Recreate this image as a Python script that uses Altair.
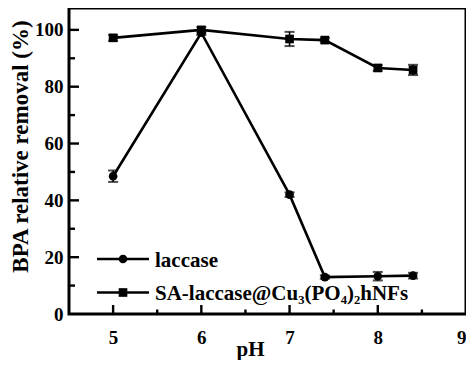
import altair as alt
import pandas as pd

ph = [5, 6, 7, 7.4, 8, 8.4]
laccase = [48.5, 99.0, 42.0, 13.0, 13.3, 13.5]
laccase_err = [2.0, 0.8, 0.8, 0.6, 1.5, 1.0]
sa = [97.2, 100.0, 96.8, 96.4, 86.6, 85.9]
sa_err = [1.0, 1.0, 2.5, 0.8, 1.0, 1.8]

series_names = ["laccase", "SA-laccase@Cu\u2083(PO\u2084)\u2082hNFs"]
x_ticks = [5, 6, 7, 8, 9]
x_minor = [5.5, 6.5, 7.5, 8.5]
y_ticks = [0, 20, 40, 60, 80, 100]
y_major_in = [20, 40, 60, 80, 100]
y_minor = [10, 30, 50, 70, 90]

rows = []
for name, vals, errs in [(series_names[0], laccase, laccase_err),
                         (series_names[1], sa, sa_err)]:
    for p, v, e in zip(ph, vals, errs):
        rows.append({"series": name, "pH": p, "value": v, "lo": v - e, "hi": v + e})
df = pd.DataFrame(rows)

W, H = 397, 306
FONT = "Liberation Serif"
xs = alt.Scale(domain=[4.5, 9.0], nice=False, zero=False)
ys = alt.Scale(domain=[0, 107.7], nice=False)
shape_scale = alt.Scale(domain=series_names, range=["circle", "square"])

x_axis = alt.Axis(values=x_ticks, title="pH", ticks=False, domain=False, grid=False,
                  labelPadding=14, format="d", titleX=181, titleY=41,
                  titleAlign="center", titleBaseline="alphabetic")
y_axis = alt.Axis(values=y_ticks, title="BPA relative removal (%)", ticks=False,
                  domain=False, grid=False, labelPadding=6,
                  titleX=-49, titleY=138, titleAlign="center", titleBaseline="middle")


def X(f):
    return alt.X(f, scale=xs, axis=x_axis)


def Y(f):
    return alt.Y(f, scale=ys, axis=y_axis)


base = alt.Chart(df)
lines = base.mark_line(color="black", strokeWidth=2.6).encode(
    x=X("pH:Q"), y=Y("value:Q"), detail="series:N")
err = base.mark_rule(color="black", strokeWidth=1.6).encode(
    x=X("pH:Q"), y=Y("lo:Q"), y2="hi:Q")
cap_lo = base.mark_tick(color="black", orient="horizontal", size=10, thickness=2).encode(
    x=X("pH:Q"), y=Y("lo:Q"))
cap_hi = base.mark_tick(color="black", orient="horizontal", size=10, thickness=2).encode(
    x=X("pH:Q"), y=Y("hi:Q"))
pts = base.mark_point(filled=True, color="black", opacity=1, size=75).encode(
    x=X("pH:Q"), y=Y("value:Q"),
    shape=alt.Shape("series:N", scale=shape_scale, legend=None))

# inward ticks
xt_major = alt.Chart(pd.DataFrame({"t": x_ticks[:-1]})).mark_rule(color="black", strokeWidth=2.4).encode(
    x=X("t:Q"), y=alt.value(H), y2=alt.value(H - 9))
xt_minor = alt.Chart(pd.DataFrame({"t": x_minor})).mark_rule(color="black", strokeWidth=2.4).encode(
    x=X("t:Q"), y=alt.value(H), y2=alt.value(H - 4.5))
yt_major = alt.Chart(pd.DataFrame({"t": y_major_in})).mark_rule(color="black", strokeWidth=2.4).encode(
    y=Y("t:Q"), x=alt.value(0), x2=alt.value(10))
yt_minor = alt.Chart(pd.DataFrame({"t": y_minor})).mark_rule(color="black", strokeWidth=2.4).encode(
    y=Y("t:Q"), x=alt.value(0), x2=alt.value(6))

# legend
one = alt.Chart(pd.DataFrame({"a": [0]}))
leg_layers = []
for i, name in enumerate(series_names):
    ly = [251, 284.5][i]
    ty = [258.5, 292][i]
    shp = ["circle", "square"][i]
    leg_layers.append(one.mark_rule(color="black", strokeWidth=2.6).encode(
        x=alt.value(28), x2=alt.value(80), y=alt.value(ly)))
    leg_layers.append(one.mark_point(filled=True, color="black", opacity=1, size=75, shape=shp).encode(
        x=alt.value(54), y=alt.value(ly)))
    leg_layers.append(one.mark_text(text=name, font=FONT, fontSize=21, fontWeight="bold",
                                    align="left", baseline="alphabetic", color="black").encode(
        x=alt.value(86), y=alt.value(ty)))

chart = alt.layer(lines, err, cap_lo, cap_hi, pts, xt_major, xt_minor, yt_major, yt_minor,
                  *leg_layers).properties(
    width=W, height=H,
    autosize=alt.AutoSizeParams(type="none"),
    padding={"left": 61, "top": 0, "right": 0, "bottom": 46},
).configure_view(stroke="black", strokeWidth=3).configure_axis(
    labelFont=FONT, labelFontSize=19, labelFontWeight="bold", labelColor="black",
    titleFont=FONT, titleFontSize=23, titleFontWeight="bold", titleColor="black",
).configure_axisX(titleFontSize=21)

chart.save("out.html", embed_options={"renderer": "svg", "actions": False})
